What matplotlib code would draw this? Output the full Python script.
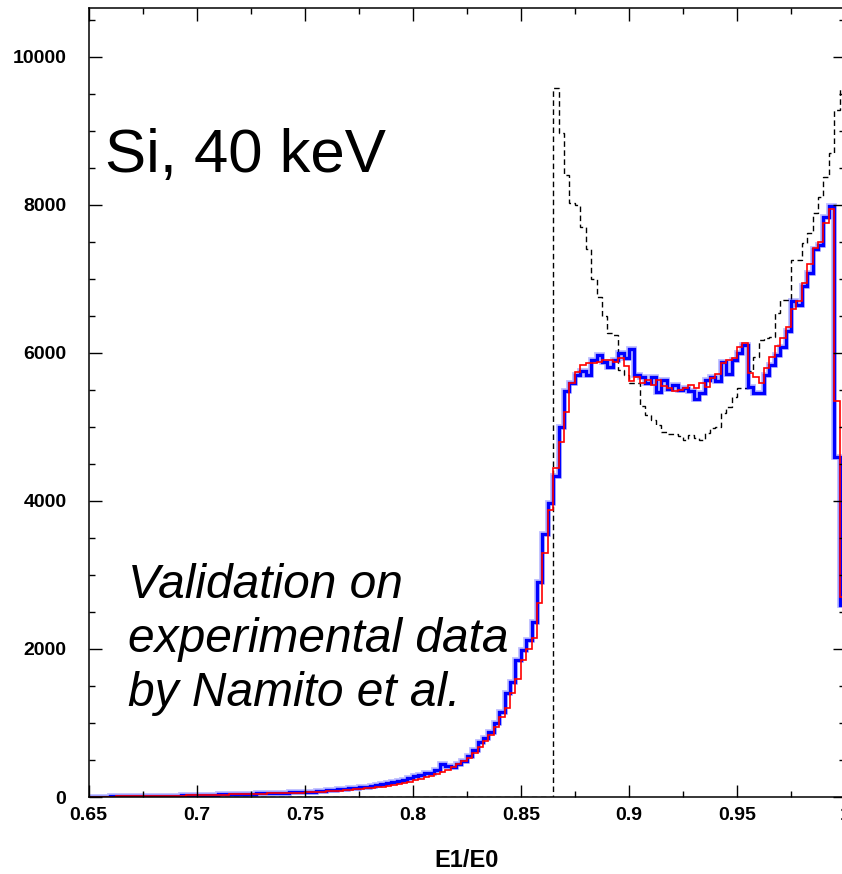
import numpy as np
import matplotlib
matplotlib.use("Agg")
import matplotlib.pyplot as plt
from matplotlib.ticker import MultipleLocator, FormatStrFormatter

plt.rcParams['font.family'] = ['Liberation Sans', 'DejaVu Sans']

# E1/E0 bins, 0.0025 wide from 0.65 to 1.0
edges = np.linspace(0.65, 1.0, 141)

# experimental data (blue)
blue = [
    5, 5, 6, 6, 8, 8, 10, 10, 12, 12, 14, 14, 16, 16, 18, 20, 20, 22, 24, 26,
    28, 30, 30, 32, 34, 36, 38, 40, 42, 44, 46, 48, 50, 52, 55, 58, 60, 62, 64, 66,
    70, 74, 78, 84, 90, 96, 102, 108, 115, 122, 130, 140, 150, 160, 172, 185, 200, 215, 235, 255,
    280, 300, 320, 330, 360, 440, 420, 410, 440, 480, 560, 640, 740, 800, 880, 1000, 1150, 1400, 1550, 1850,
    1990, 2120, 2360, 2900, 3550, 3970, 4340, 5000, 5490, 5600,
    5700, 5760, 5700, 5900, 5970, 5880, 5810, 5900, 6000, 5930,
    6050, 5700, 5670, 5600, 5680, 5470, 5630, 5510, 5560, 5500,
    5520, 5480, 5380, 5460, 5630, 5680, 5620, 5880, 5720, 5900,
    6000, 6110, 5540, 5460, 5460, 5700, 5840, 5970, 6080, 6300,
    6700, 6650, 6900, 7080, 7400, 7460, 7840, 7980, 4600, 2600,
]

# simulation (red)
red = [
    4, 4, 5, 5, 6, 7, 8, 9, 10, 11, 12, 13, 14, 15, 16, 17, 18, 20, 21, 22,
    24, 25, 27, 28, 30, 32, 34, 36, 38, 40, 42, 44, 46, 48, 50, 52, 54, 56, 58, 60,
    62, 65, 68, 72, 76, 80, 85, 90, 96, 102, 108, 115, 122, 130, 140, 150, 162, 175, 190, 205,
    225, 245, 265, 285, 310, 340, 370, 400, 440, 490, 530, 600, 680, 760, 840, 940, 1080, 1200, 1400, 1600,
    1850, 2000, 2150, 2620, 3300, 3880, 4450, 4800, 5200, 5590,
    5740, 5840, 5860, 5860, 5880, 5900, 5900, 5880, 5930, 5820,
    5620, 5680, 5600, 5630, 5560, 5630, 5550, 5520, 5480, 5500,
    5520, 5560, 5520, 5590, 5540, 5660, 5720, 5860, 5910, 5930,
    6080, 6140, 5730, 5680, 5590, 5800, 5950, 6100, 6200, 6350,
    6600, 6700, 6950, 7200, 7420, 7500, 7750, 7950, 5350, 2700,
]

# free-electron prediction (dashed), zero below the Compton edge
dashed = [0] * 86 + [
    9580, 8970, 8400, 8030,
    8000, 7700, 7400, 7000, 6750, 6500, 6270, 6240, 5770, 5700,
    5600, 5600, 5280, 5160, 5100, 5030, 4930, 4900, 4900, 4880,
    4820, 4890, 4850, 4820, 4920, 4990, 5000, 5190, 5270, 5400,
    5530, 5530, 5750, 5950, 6180, 6200, 6220, 6540, 6720, 6720,
    7260, 7260, 7490, 7620, 7890, 8110, 8380, 8700, 9280, 9580,
]

W, H = 842, 874
fig = plt.figure(figsize=(W / 100, H / 100), dpi=100)
ax = fig.add_axes([88.7 / W, 77 / H, (845 - 88.7) / W, 789 / H])

ax.stairs(dashed, edges, color="black", lw=1.0, linestyle=(0, (4, 2.5)))
ax.stairs(blue, edges, color="#0000ff", lw=4.2, alpha=0.25)
ax.stairs(blue, edges, color="#0000ff", lw=2.4)
ax.stairs(red, edges, color="#ff0000", lw=1.2)

ax.set_xlim(0.65, 1.0)
ax.set_ylim(0, 10660)

ax.xaxis.set_major_locator(MultipleLocator(0.05))
ax.xaxis.set_minor_locator(MultipleLocator(0.025))
ax.yaxis.set_major_locator(MultipleLocator(2000))
ax.yaxis.set_minor_locator(MultipleLocator(500))
ax.xaxis.set_major_formatter(FormatStrFormatter("%g"))
ax.yaxis.set_major_formatter(FormatStrFormatter("%d"))

ax.tick_params(which="both", direction="in", top=True, right=True, width=1.0)
ax.tick_params(which="major", length=9)
ax.tick_params(which="minor", length=4.5)
ax.tick_params(axis="y", pad=16)
ax.tick_params(axis="x", pad=7)
for lab in ax.get_xticklabels() + ax.get_yticklabels():
    lab.set_fontweight("bold")
    lab.set_fontsize(14)
for sp in ax.spines.values():
    sp.set_linewidth(1.1)

ax.set_xlabel("E1/E0", fontsize=17, fontweight="bold", labelpad=18)

fig.text(105 / W, 1 - 172 / H, "Si, 40 keV", fontsize=44.5, va="baseline", ha="left")
fig.text(128 / W, 1 - 706 / H, "Validation on\nexperimental data\nby Namito et al.",
         fontsize=34.5, style="italic", va="baseline", ha="left", linespacing=1.25)

fig.savefig("out.png", dpi=100)
